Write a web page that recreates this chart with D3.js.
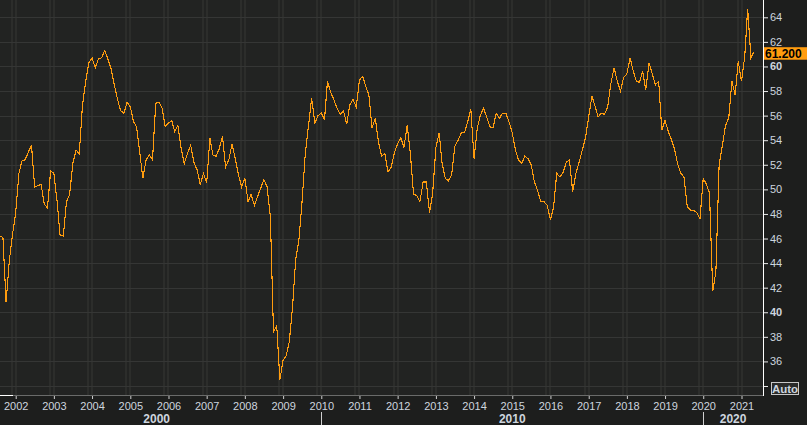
<!DOCTYPE html>
<html><head><meta charset="utf-8">
<script src="https://cdn.jsdelivr.net/npm/d3@7"></script>
<style>
html,body{margin:0;padding:0;background:#1d1e1d;}
svg{display:block;font-family:"Liberation Sans",Arial,sans-serif;}
</style></head><body>
<svg id="c" width="807" height="425"></svg>
<script>
// ---- data ----
const startYear = 2001, startMonthIndex = 7; // Aug 2001
const pmi = [
  46.2, 46.1, 40.8, 44.2, 46.3,
  48.1, 51.3, 52.3, 52.4, 53.0, 53.6, 50.2, 50.3, 50.4, 48.8, 48.5, 51.5,
  51.3, 49.0, 46.3, 46.2, 49.0, 49.6, 52.1, 53.2, 52.9, 56.8, 58.8, 60.3,
  60.7, 59.9, 60.6, 60.7, 61.3, 60.6, 59.8, 58.5, 57.3, 56.4, 56.2, 57.1,
  56.7, 55.5, 55.1, 53.0, 50.9, 52.4, 52.8, 52.4, 57.0, 57.1, 56.6, 55.1,
  55.4, 55.6, 54.7, 55.2, 53.4, 52.1, 52.9, 53.6, 52.2, 51.6, 50.4, 51.3,
  50.5, 54.2, 52.8, 52.7, 53.3, 54.3, 51.8, 52.4, 53.7, 52.5, 51.2, 50.2,
  50.9, 49.0, 49.6, 48.7, 49.4, 50.1, 50.8, 50.2, 47.8, 38.4, 38.9, 34.5,
  36.1, 36.5, 37.6, 40.4, 44.3, 45.9, 49.0, 52.9, 55.2, 57.4, 55.4, 56.0,
  56.2, 55.7, 58.8, 57.9, 57.3, 56.6, 56.1, 56.4, 55.3, 56.9, 57.3, 56.7,
  58.9, 59.2, 58.4, 57.7, 55.0, 55.8, 53.9, 52.7, 52.9, 51.4, 51.8, 53.0,
  53.7, 54.2, 53.4, 55.2, 53.0, 49.6, 49.5, 49.0, 50.6, 50.6, 48.1, 49.7,
  53.4, 54.6, 52.1, 50.9, 50.7, 51.2, 53.5, 54.0, 54.6, 54.6, 55.5, 56.5,
  52.5, 55.0, 56.0, 56.6, 55.9, 55.1, 55.0, 56.2, 55.8, 56.2, 56.2, 55.5,
  54.6, 53.2, 52.4, 52.1, 52.7, 52.5, 52.0, 50.6, 49.9, 49.0, 49.0, 48.7,
  47.5, 48.6, 51.3, 51.0, 51.4, 52.2, 52.4, 49.8, 51.3, 52.2, 53.2, 54.2,
  55.9, 57.6, 56.8, 55.9, 56.2, 56.1, 56.7, 58.6, 59.9, 58.8, 58.0, 59.1,
  59.4, 60.7, 59.7, 58.8, 58.7, 59.6, 58.1, 60.3, 59.4, 58.5, 58.8, 54.8,
  55.6, 54.7, 54.1, 53.3, 52.1, 51.3, 51.0, 48.6, 48.3, 48.3, 48.1, 47.6,
  50.9, 50.4, 49.7, 41.7, 43.3, 52.0, 53.5, 55.2, 55.8, 58.8, 57.7, 60.4,
  58.8, 60.8, 64.7, 60.7, 61.2
];
const yearTicks = d3.range(2002, 2022);
const yTicks = d3.range(34, 65, 2);
const boldTicks = [40, 60];
const hiddenTicks = [34];
const decades = [
  {label: "2000", from: 2000, to: 2010},
  {label: "2010", from: 2010, to: 2020},
  {label: "2020", from: 2020, to: 2030}
];
const lastLabel = "61.200";
const autoLabel = "Auto";

// ---- layout ----
const plotL = 0, plotR = 763, plotT = 0, plotB = 395;
const orange = "#ff9c0e";
const textCol = "#cdd5df";

const svg = d3.select("#c");
const x = d3.scaleTime()
  .domain([new Date(2002, 0, 1), new Date(2021, 0, 1)])
  .range([15.7, 741.5]);
const y = d3.scaleLinear().domain([34, 64]).range([386, 17.3]);

const data = pmi.map((v, i) => ({date: new Date(startYear, startMonthIndex + i, 1), v}));

// plot background
svg.append("rect").attr("x", plotL).attr("y", plotT)
  .attr("width", plotR - plotL).attr("height", plotB - plotT)
  .attr("fill", "#222322");

svg.append("clipPath").attr("id", "clip")
  .append("rect").attr("x", plotL).attr("y", plotT)
  .attr("width", plotR - plotL).attr("height", plotB - plotT);

// vertical grid (pairs)
const grid = svg.append("g").attr("clip-path", "url(#clip)");
yearTicks.forEach(yr => {
  const xx = Math.round(x(new Date(yr, 0, 1)));
  [xx - 4, xx].forEach(gx => {
    grid.append("rect").attr("x", gx - 1).attr("y", plotT)
      .attr("width", 2).attr("height", plotB - plotT)
      .attr("fill", "#2c2d2b");
  });
});
// horizontal grid
yTicks.forEach(t => {
  grid.append("line")
    .attr("x1", plotL).attr("x2", plotR)
    .attr("y1", Math.round(y(t)) + 0.5).attr("y2", Math.round(y(t)) + 0.5)
    .attr("stroke", "#353635").attr("stroke-width", 1);
});

// line
const line = d3.line().x(d => x(d.date)).y(d => y(d.v));
svg.append("g").attr("clip-path", "url(#clip)")
  .append("path").datum(data)
  .attr("d", line)
  .attr("fill", "none")
  .attr("stroke", orange)
  .attr("stroke-width", 1.1)
  .attr("shape-rendering", "crispEdges");

// x axis
const xAxis = d3.axisBottom(x)
  .tickValues(yearTicks.map(yr => new Date(yr, 0, 1)))
  .tickFormat(d3.timeFormat("%Y"))
  .tickSize(3).tickPadding(3);
const gx = svg.append("g").attr("transform", `translate(0,${plotB})`).call(xAxis);
gx.select(".domain").remove();
gx.selectAll(".tick line").attr("stroke", "#cfcfcf").attr("transform", "translate(0,1)");
gx.selectAll(".tick text").attr("fill", textCol)
  .attr("font-size", 11).attr("font-family", "Liberation Sans, Arial, sans-serif")
  .attr("dy", "0.85em");
svg.append("line").attr("x1", plotL).attr("x2", plotR)
  .attr("y1", plotB + 0.5).attr("y2", plotB + 0.5)
  .attr("stroke", "#6a6b6a");
svg.append("line").attr("x1", plotL).attr("x2", 13)
  .attr("y1", plotB + 0.5).attr("y2", plotB + 0.5)
  .attr("stroke", "#ffffff");

// decade labels
decades.forEach(d => {
  const a = Math.max(plotL, x(new Date(d.from, 0, 1)));
  const b = Math.min(plotR, x(new Date(d.to, 0, 1)));
  svg.append("text").attr("x", (a + b) / 2 - (d.from === 2000 ? 4 : 0)).attr("y", 423)
    .attr("text-anchor", "middle").attr("font-size", 12).attr("font-weight", "bold")
    .attr("fill", textCol).text(d.label);
  const xs = x(new Date(d.from, 0, 1));
  if (xs > plotL) {
    svg.append("line").attr("x1", Math.round(xs) + 0.5).attr("x2", Math.round(xs) + 0.5)
      .attr("y1", 412).attr("y2", 425).attr("stroke", "#d0d0d0");
  }
});

// y axis
const yAxis = d3.axisRight(y).tickValues(yTicks).tickSize(5).tickPadding(2)
  .tickFormat(d => hiddenTicks.includes(d) ? "" : d);
const gy = svg.append("g").attr("transform", `translate(${plotR},0)`).call(yAxis);
gy.select(".domain").remove();
gy.selectAll(".tick line").attr("stroke", "#e8e8e8");
gy.selectAll(".tick text").attr("fill", textCol).attr("font-size", 11)
  .attr("font-family", "Liberation Sans, Arial, sans-serif")
  .attr("font-weight", d => boldTicks.includes(d) ? "bold" : "normal");
svg.append("line").attr("x1", plotR + 0.5).attr("x2", plotR + 0.5)
  .attr("y1", plotT).attr("y2", plotB + 1).attr("stroke", "#ffffff");

// last value label
const lastV = pmi[pmi.length - 1];
const ly = y(lastV);
svg.append("rect").attr("x", plotR + 1).attr("y", ly - 4.5)
  .attr("width", 807 - plotR - 1).attr("height", 12.5).attr("fill", orange);
svg.append("text").attr("x", plotR + 2).attr("y", ly + 5.8)
  .attr("font-size", 12).attr("font-weight", "bold").attr("fill", "#000")
  .text(lastLabel);

// Auto box
svg.append("rect").attr("x", 771.5).attr("y", 382.5).attr("width", 27).attr("height", 12)
  .attr("fill", "#2a2b2a").attr("stroke", "#c8c8c8");
svg.append("text").attr("x", 785).attr("y", 392.5).attr("text-anchor", "middle")
  .attr("font-size", 11.5).attr("font-weight", "bold").attr("fill", textCol).text(autoLabel);
</script>
</body></html>
